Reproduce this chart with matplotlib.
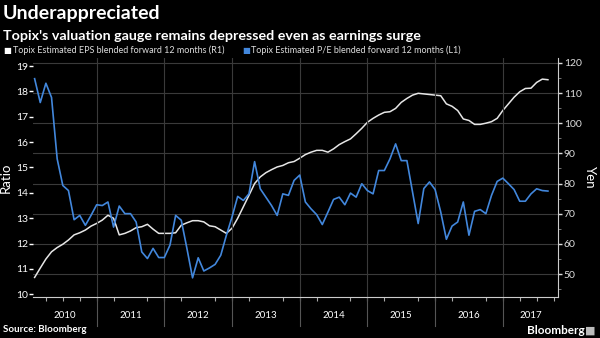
import matplotlib
matplotlib.use('Agg')
import matplotlib.pyplot as plt
from matplotlib.ticker import MultipleLocator, FixedLocator
import numpy as np

# Datos (mensuales, ene 2010 - ago 2017)
pe_ratio = [
    18.50, 17.56, 18.32, 17.76, 15.34, 14.29, 14.09, 12.94, 13.11, 12.72, 13.11, 13.53,
    13.50, 13.64, 12.65, 13.48, 13.18, 13.18, 12.85, 11.67, 11.41, 11.81, 11.45, 11.45,
    11.94, 13.11, 12.92, 11.81, 10.65, 11.44, 10.92, 11.04, 11.18, 11.54, 12.33, 13.05,
    13.86, 13.70, 13.96, 15.23, 14.16, 13.83, 13.50, 13.11, 13.96, 13.90, 14.49, 14.70,
    13.64, 13.37, 13.14, 12.75, 13.24, 13.74, 13.83, 13.53, 13.99, 13.83, 14.36, 14.09,
    13.96, 14.88, 14.88, 15.34, 15.93, 15.27, 15.27, 14.03, 12.79, 14.17, 14.43, 14.13,
    13.24, 12.17, 12.69, 12.85, 13.64, 12.33, 13.27, 13.34, 13.18, 13.90, 14.45, 14.58,
    14.36, 14.13, 13.67, 13.67, 13.96, 14.16, 14.09, 14.07,
]
eps_yen = [
    48.9, 52.0, 55.0, 57.4, 58.8, 59.9, 61.3, 63.0, 63.7, 64.6, 65.9, 66.8,
    67.9, 69.5, 68.5, 63.0, 63.5, 64.3, 65.4, 65.7, 66.5, 64.9, 63.5, 63.5,
    63.5, 63.7, 66.2, 67.0, 67.7, 67.7, 67.3, 66.0, 65.7, 64.6, 63.5, 65.2,
    68.5, 72.3, 76.1, 80.0, 82.2, 83.6, 84.6, 85.5, 86.0, 86.9, 87.3, 88.4,
    89.6, 90.4, 91.0, 91.0, 90.4, 91.5, 92.9, 93.9, 94.8, 96.5, 98.3, 100.3,
    101.6, 102.7, 103.6, 103.8, 104.9, 106.9, 108.2, 109.3, 109.9, 109.7, 109.5, 109.3,
    109.1, 106.4, 105.6, 104.2, 101.4, 100.9, 99.6, 99.6, 100.0, 100.5, 101.6, 104.2,
    106.4, 108.6, 110.4, 111.5, 111.6, 113.5, 114.6, 114.4,
]
years = [2010, 2011, 2012, 2013, 2014, 2015, 2016, 2017]
year_labels = ['2010', '2011', '2012', '2013', '2014', '2015', '2016', '2017']

# Eje x en años fraccionarios (fin de cada mes)
x = 2010 + np.arange(1, len(pe_ratio) + 1) / 12

azul = '#4287dc'
blanco = '#e6e6e6'
gris = '#3a3a3a'
fuente = 'Lato'

fig = plt.figure(figsize=(6, 3.38), dpi=100, facecolor='black')
ax = fig.add_axes([0.0555, 0.1213, 0.875, 0.7067])
ax2 = ax.twinx()
ax.set_zorder(ax2.get_zorder() + 1)
ax.patch.set_visible(False)
ax2.set_facecolor('black')

xmin, xmax = 2010.064, 2017.82
ax.set_xlim(xmin, xmax)

# Lineas
ax2.plot(x, eps_yen, color=blanco, lw=1.1)
ax.plot(x, pe_ratio, color=azul, lw=1.2)

# Eje izquierdo (ratio)
ax.set_ylim(9.894, 19.31)
ax.set_yticks(range(10, 20))
ax.tick_params(axis='y', colors='white', labelsize=7.5, length=3, width=1, pad=1)
for lab in ax.get_yticklabels():
    lab.set_family(fuente)
ax.set_ylabel('Ratio', color='white', fontsize=9.5, family=fuente, labelpad=3)

# Eje derecho (yen)
ax2.set_ylim(42.42, 121.55)
ax2.set_yticks(range(50, 121, 10))
ax2.yaxis.set_minor_locator(MultipleLocator(5))
ax2.tick_params(axis='y', which='major', colors='#dddddd', labelsize=7.5, length=3, width=1, pad=1)
ax2.tick_params(axis='y', which='minor', colors='#888888', length=2)
for lab in ax2.get_yticklabels():
    lab.set_family(fuente)
ax2.set_ylabel('Yen', color='white', fontsize=9.5, family=fuente, rotation=270, labelpad=10)
ax2.grid(axis='y', which='major', color=gris, lw=0.8)
ax2.set_axisbelow(True)

# Eje x: etiquetas de año centradas en la parte visible
centros = [(max(a, xmin) + min(a + 1, xmax)) / 2 for a in years]
ax.xaxis.set_major_locator(FixedLocator(centros))
ax.set_xticklabels(year_labels, family=fuente)
ax.xaxis.set_minor_locator(FixedLocator([a + q / 4 for a in years for q in range(4)
                                         if xmin < a + q / 4 < xmax]))
ax.tick_params(axis='x', which='major', length=0, colors='white', labelsize=7, pad=10)
ax.tick_params(axis='x', which='minor', length=3, width=0.8, colors='#aaaaaa')
ax2.tick_params(axis='x', length=0)

for a in years[1:]:
    ax2.axvline(a, color=gris, lw=0.8)
    ax.plot([a, a], [0, -0.12], transform=ax.get_xaxis_transform(),
            clip_on=False, color='#555555', lw=0.8)

for eje in (ax, ax2):
    eje.spines['top'].set_visible(False)
    eje.spines['left'].set_visible(False)
ax.spines['right'].set_visible(False)
ax.spines['bottom'].set_color('#cccccc')
ax2.spines['bottom'].set_visible(False)
ax2.spines['right'].set_color('#cccccc')

# Textos
fig.text(0.005, 0.985, 'Underappreciated', color='white', fontsize=14,
         weight='bold', family=fuente, va='top')
fig.text(0.005, 0.912, "Topix's valuation gauge remains depressed even as earnings surge",
         color='white', fontsize=10.3, weight='bold', family=fuente, va='top')
fig.text(0.006, 0.852, '\u25a0', color='white', fontsize=6, va='center', family='DejaVu Sans')
fig.text(0.021, 0.852, 'Topix Estimated EPS blended forward 12 months (R1)',
         color='#dddddd', fontsize=6.5, va='center', family=fuente)
fig.text(0.404, 0.852, '\u25a0', color=azul, fontsize=6, va='center', family='DejaVu Sans')
fig.text(0.419, 0.852, 'Topix Estimated P/E blended forward 12 months (L1)',
         color='#dddddd', fontsize=6.5, va='center', family=fuente)
fig.text(0.005, 0.025, 'Source: Bloomberg', color='white', fontsize=7,
         weight='bold', family=fuente, va='center')
fig.text(0.975, 0.022, 'Bloomberg', color='white', fontsize=8.5,
         weight='bold', family=fuente, va='center', ha='right')
fig.text(0.993, 0.022, '\u25a0', color='#bbbbbb', fontsize=8, va='center', ha='right',
         family='DejaVu Sans')

fig.savefig('out.png', dpi=100, facecolor='black')
